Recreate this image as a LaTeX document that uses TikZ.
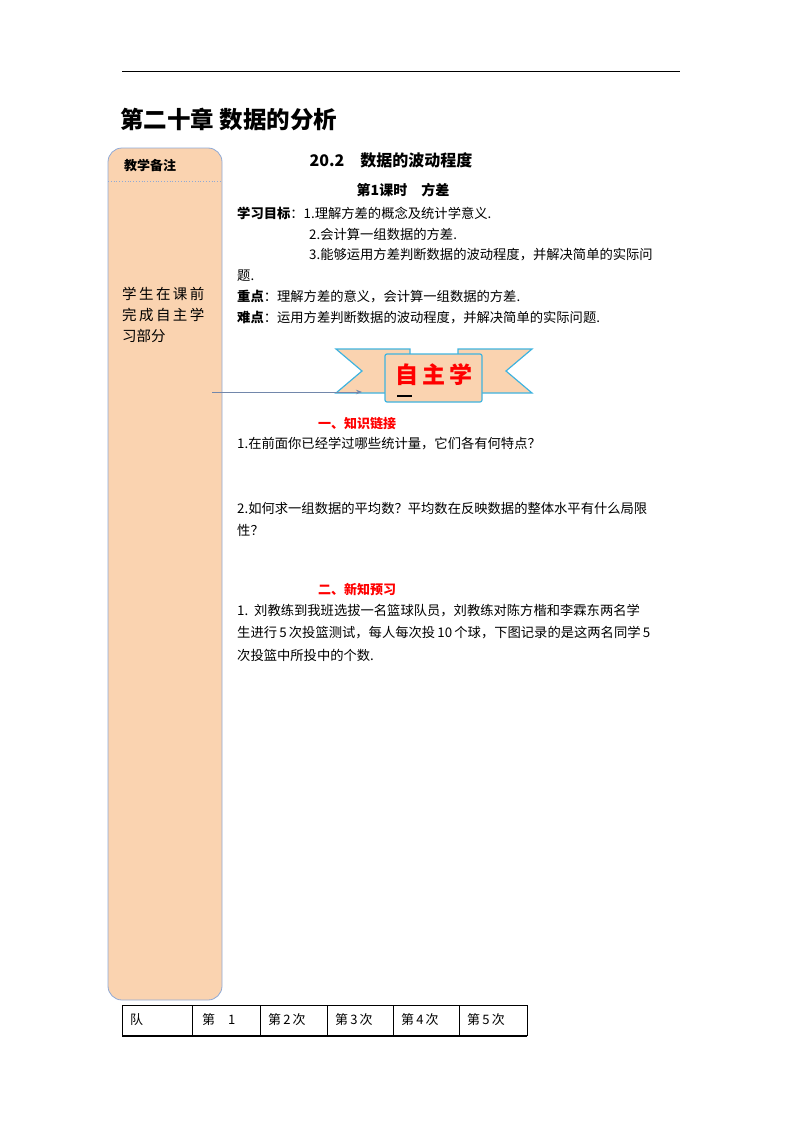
\documentclass[tikz,border=0pt]{standalone}
\usepackage{fontspec}
\setmainfont{Noto Sans CJK SC}
\usetikzlibrary{arrows.meta}
\definecolor{peach}{HTML}{FAD3B0}
\definecolor{edge}{HTML}{8FA9D6}
\definecolor{ribb}{HTML}{3FB3DF}
\tikzset{txt/.style={anchor=west,inner sep=0pt,font=\fontsize{13.3}{15}\selectfont},
 red/.style={txt,text=red,font=\fontsize{13}{15}\selectfont\bfseries},
 cell/.style={anchor=west,inner sep=0pt,font=\fontsize{13}{15}\selectfont}}
\begin{document}
\begin{tikzpicture}[x=1pt,y=-1pt]
\useasboundingbox (0,0) rectangle (800,1132);
\draw[line width=1pt] (122,72) -- (680,72);
\node[anchor=west,inner sep=0pt,font=\fontsize{23.5}{26}\selectfont\bfseries] (title) at (120,119) {第二十章\ 数据的分析};
% left column
\draw[edge,fill=peach,rounded corners=14pt,line width=0.8pt] (108,148) rectangle (222,1000);
\draw[edge,dotted,line width=0.8pt] (108,181) -- (222,181);
\node[anchor=west,inner sep=0pt,font=\fontsize{13}{15}\selectfont\bfseries] (bz) at (124,166) {教学备注};
\node[anchor=north west,inner sep=0pt,align=left,font=\fontsize{14.5}{21}\selectfont] (note) at (122,287) {学\,生\,在\,课\,前\\完\,成\,自\,主\,学\\习部分};
% header
\node[inner sep=0pt,font=\fontsize{16}{18}\selectfont\bfseries] (sec) at (391,160) {20.2\quad 数据的波动程度};
\node[inner sep=0pt,font=\fontsize{14}{16}\selectfont\bfseries] (ks) at (403,190) {第1课时\quad 方差};
\node[txt] (g1) at (237,213) {\textbf{学习目标}：1.理解方差的概念及统计学意义.};
\node[txt] (g2) at (309,234) {2.会计算一组数据的方差.};
\node[txt] (g3) at (309,255) {3.能够运用方差判断数据的波动程度，并解决简单的实际问};
\node[txt] (g4) at (237,276) {题.};
\node[txt] (zd) at (237,297) {\textbf{重点}：理解方差的意义，会计算一组数据的方差.};
\node[txt] (nd) at (237,318) {\textbf{难点}：运用方差判断数据的波动程度，并解决简单的实际问题.};
% banner
\draw[ribb,fill=peach,line width=1.2pt] (336,349) -- (410,349) -- (410,393) -- (336,393) -- (362,371) -- cycle;
\draw[ribb,fill=peach,line width=1.2pt] (532,349) -- (458,349) -- (458,393) -- (532,393) -- (506,371) -- cycle;
\draw[ribb,fill=peach,line width=1.2pt,rounded corners=2pt] (385,354) rectangle (482,402);
\node[inner sep=0pt,text=red,font=\fontsize{23}{25}\selectfont\bfseries] (zz) at (434,375) {自\,主\,学};
\draw[red,line width=1.5pt] (397,396) -- (412,396);
\coordinate (as) at (212,392);
\coordinate (ae) at (362,392);
\draw[edge!80!black,line width=0.8pt,-{Stealth[length=6pt]}] (as) -- (ae);
% sections
\node[red] (s1) at (318,424) {一、知识链接};
\node[txt] (q1) at (237,444) {1.在前面你已经学过哪些统计量，它们各有何特点？};
\node[txt] (q2) at (237,508) {2.如何求一组数据的平均数？平均数在反映数据的整体水平有什么局限};
\node[txt] (q2b) at (237,530) {性？};
\node[red] (s2) at (318,590) {二、新知预习};
\node[txt] (p1) at (237,611) {1.\ \ 刘教练到我班选拔一名篮球队员，刘教练对陈方楷和李霖东两名学};
\node[txt] (p2) at (237,633) {生进行\,5\,次投篮测试，每人每次投\,10\,个球，下图记录的是这两名同学\,5};
\node[txt] (p3) at (237,655) {次投篮中所投中的个数.};
% table
\draw[line width=0.8pt] (122,1005) rectangle (527,1035);
\foreach \x in {192,260,327,393,459} \draw[line width=0.8pt] (\x,1005) -- (\x,1035);
\draw[line width=1.6pt] (122,1036) -- (527,1036);
\node[cell] (c1) at (130,1020) {队};
\node[cell] (c2) at (202,1020) {第\quad 1};
\node[cell] (c3) at (268,1020) {第\,2\,次};
\node[cell] (c4) at (335,1020) {第\,3\,次};
\node[cell] (c5) at (401,1020) {第\,4\,次};
\node[cell] (c6) at (467,1020) {第\,5\,次};
\end{tikzpicture}
\end{document}
